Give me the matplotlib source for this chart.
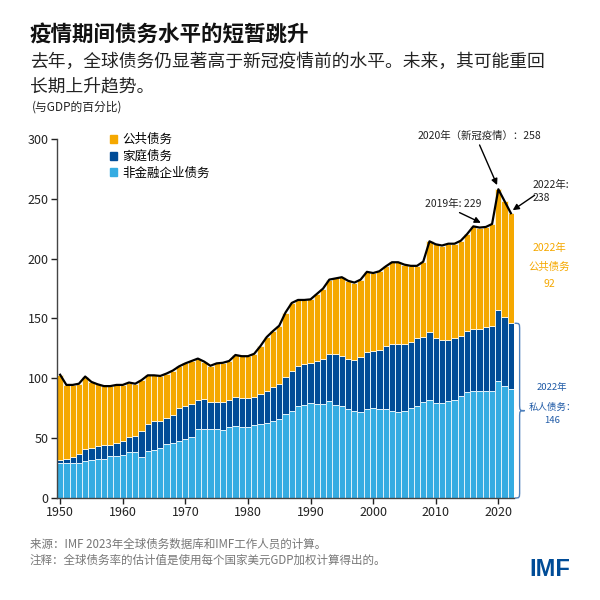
import matplotlib
matplotlib.use("Agg")
import matplotlib.pyplot as plt
from matplotlib.patches import Patch, PathPatch
from matplotlib.path import Path
import numpy as np

plt.rcParams['font.family'] = ['Noto Sans CJK SC', 'DejaVu Sans']

years = np.arange(1950, 2023)

# percent of GDP
corporate = [29.5, 29, 29.5, 29.5, 31, 31.5, 32.5, 33, 35, 35,
             36, 38.5, 38.5, 34, 39.5, 40.5, 42, 45, 46, 48,
             49, 51, 57.5, 58, 58, 57.5, 57, 59, 60, 59.5,
             59, 61, 62, 63, 64.5, 66, 70, 73, 76.5, 77.5,
             79, 78.5, 78.5, 81, 78, 77, 74, 73, 72, 74,
             75, 74, 74, 73, 72, 73, 75, 77, 80, 82,
             79, 79, 81, 82, 85, 88.5, 89.5, 89, 89, 89.5,
             98, 94, 91]
household = [2.5, 4, 4.5, 7.5, 10, 10.5, 11, 11, 9.5, 11,
             12, 12.5, 13.5, 22, 22.5, 23.5, 22.5, 22, 23.5, 27,
             28, 27.5, 24.5, 24.5, 22.5, 23, 23, 22.5, 24.5, 24,
             24.5, 23.5, 24.5, 26.5, 28, 29, 31.5, 33, 33.5, 34.5,
             34, 36, 37.5, 39, 42, 42, 42, 42.5, 45.5, 48,
             47.5, 49.5, 53, 55.5, 56.5, 55.5, 55.5, 56.5, 54.5, 57,
             55, 53, 51, 51.5, 50.5, 51, 52, 52.5, 53.5, 54,
             59, 57.5, 55]
public = [71, 61.5, 60.5, 58.5, 60.5, 55, 51.5, 49.5, 49, 48.5,
          46.5, 45.5, 43.5, 42.5, 40.5, 38.5, 37.5, 37, 37, 35,
          35.5, 36, 34.5, 31.5, 30, 32, 33, 33, 35, 35,
          35, 36, 40.5, 45, 47, 49, 53.5, 57, 55.5, 53.5,
          53, 56, 59, 62.5, 63.5, 65.5, 65.5, 64.5, 65, 67,
          65.5, 66, 66.5, 68.5, 68.5, 66.5, 63.5, 60.5, 63, 75.5,
          78, 79, 80.5, 79, 79.5, 81, 85.5, 84.5, 84, 85.5,
          101, 96.5, 92]

labels = ["公共债务", "家庭债务", "非金融企业债务"]

c_pub = "#F5A800"
c_hh = "#004C97"
c_corp = "#35ACE2"

corporate = np.array(corporate)
household = np.array(household)
public = np.array(public)
total = corporate + household + public

fig = plt.figure(figsize=(6, 6), dpi=100)
ax = fig.add_axes([57 / 600, 102 / 600, 457 / 600, 359 / 600])

ax.bar(years, corporate, width=1, color=c_corp, edgecolor="#dff1fa", linewidth=0.7)
ax.bar(years, household, width=1, bottom=corporate, color=c_hh, edgecolor="#dff1fa", linewidth=0.7)
ax.bar(years, public, width=1, bottom=corporate + household, color=c_pub, edgecolor="#fdf3d8", linewidth=0.7)
ax.plot(years, total, color="black", lw=1.6, solid_joinstyle="round")

ax.set_xlim(1949.5, 2022.5)
ax.set_ylim(0, 300)
ax.set_xticks(range(1950, 2021, 10))
ax.set_yticks(range(0, 301, 50))
for s in ["top", "right"]:
    ax.spines[s].set_visible(False)
for s in ["left", "bottom"]:
    ax.spines[s].set_color("#444444")
    ax.spines[s].set_linewidth(1)
ax.tick_params(axis="both", labelsize=9, colors="#222222", length=4, width=1, pad=2)

handles = [Patch(color=c_pub), Patch(color=c_hh), Patch(color=c_corp)]
ax.legend(handles, labels, loc="upper left", bbox_to_anchor=(0.105, 1.03), frameon=False,
          fontsize=9, handlelength=0.6, handleheight=0.6, handletextpad=0.4,
          labelspacing=0.3, borderaxespad=0)

arrow = dict(arrowstyle="-|>", color="black", lw=1, mutation_scale=9, shrinkA=0, shrinkB=0)
ax.text(2017.0, 303, "2020年（新冠疫情）：258", ha="center", va="center", fontsize=7.5,
        color="#222222", clip_on=False)
ax.annotate("", xy=(2019.8, 261.5), xytext=(2017.0, 295), arrowprops=arrow, annotation_clip=False)
ax.text(2025.4, 256, "2022年:\n238", ha="left", va="center", fontsize=7.5, color="#222222",
        linespacing=1.4, clip_on=False)
ax.annotate("", xy=(2022.3, 240.5), xytext=(2025.8, 253), arrowprops=arrow, annotation_clip=False)
ax.text(2012.8, 246, "2019年: 229", ha="center", va="center", fontsize=7.5, color="#222222",
        clip_on=False)
ax.annotate("", xy=(2017.2, 230), xytext=(2013.8, 238.5), arrowprops=arrow, annotation_clip=False)

# public debt 2022 note
for txt, yy in [("2022年", 209), ("公共债务", 193), ("92", 179)]:
    ax.text(2028.2, yy, txt, ha="center", va="center", fontsize=7.5, color=c_pub, clip_on=False)

# brace for private debt 2022
priv = corporate[-1] + household[-1]
mid = priv / 2
x0, x1, xt = 2022.6, 2023.4, 2024.2
verts = [(x0, priv), (x1, priv), (x1, priv), (x1, priv - 6),
         (x1, mid + 6),
         (x1, mid), (x1, mid), (xt, mid),
         (x1, mid), (x1, mid), (x1, mid - 6),
         (x1, 6),
         (x1, 0), (x1, 0), (x0, 0)]
codes = [Path.MOVETO, Path.CURVE4, Path.CURVE4, Path.CURVE4,
         Path.LINETO,
         Path.CURVE4, Path.CURVE4, Path.CURVE4,
         Path.CURVE4, Path.CURVE4, Path.CURVE4,
         Path.LINETO,
         Path.CURVE4, Path.CURVE4, Path.CURVE4]
ax.add_patch(PathPatch(Path(verts, codes), fill=False, edgecolor="#4F81BD", lw=1, clip_on=False))
for txt, yy in [("2022年", 92), ("私人债务：", 76), ("146", 65)]:
    ax.text(2028.6, yy, txt, ha="center", va="center", fontsize=6.8, color="#1F5AA6", clip_on=False)

# titles and notes
fig.text(30 / 600, 1 - 35 / 600, "疫情期间债务水平的短暂跳升", fontsize=15.5, fontweight="bold",
         color="#111111", va="center")
fig.text(30 / 600, 1 - 62 / 600, "去年，全球债务仍显著高于新冠疫情前的水平。未来，其可能重回",
         fontsize=12.8, color="#222222", va="center")
fig.text(30 / 600, 1 - 86 / 600, "长期上升趋势。", fontsize=12.8, color="#222222", va="center")
fig.text(32 / 600, 1 - 107 / 600, "(与GDP的百分比)", fontsize=8.5, color="#222222", va="center")

fig.text(30 / 600, 1 - 544 / 600, "来源：IMF 2023年全球债务数据库和IMF工作人员的计算。",
         fontsize=8.3, color="#777777", va="center")
fig.text(30 / 600, 1 - 560 / 600, "注释：全球债务率的估计值是使用每个国家美元GDP加权计算得出的。",
         fontsize=8.3, color="#777777", va="center")
fig.text(550 / 600, 1 - 570 / 600, "IMF", fontsize=17, fontweight="bold", color="#004C97",
         family="Liberation Sans", ha="center", va="center")

fig.savefig("out.png", dpi=100, facecolor="white")
